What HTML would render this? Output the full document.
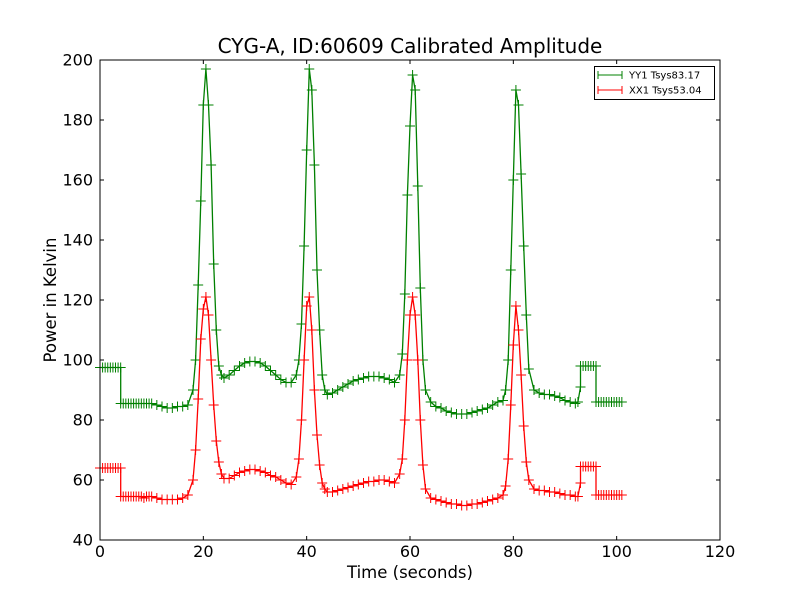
<!DOCTYPE html>
<html><head><meta charset="utf-8"><style>
body{margin:0;background:#fff}
svg{display:block;font-family:"DejaVu Sans","Liberation Sans",sans-serif}
</style></head><body>
<svg id="c" width="800" height="600">
<rect width="800" height="600" fill="#fff"/>
<text x="410" y="53" text-anchor="middle" font-size="20">CYG-A, ID:60609 Calibrated Amplitude</text>
<g id="axes"></g>
<g id="plot"></g>
<rect x="100" y="60" width="620" height="480" fill="none" stroke="#000" stroke-width="1"/>
<text x="410" y="578" text-anchor="middle" font-size="16.5">Time (seconds)</text>
<text transform="translate(56,300) rotate(-90)" text-anchor="middle" font-size="16.5">Power in Kelvin</text>
<g>
<rect x="594.5" y="66.5" width="120" height="33" fill="#fff" stroke="#000"/>
<g><line x1="598" y1="75" x2="622" y2="75" stroke="green"/><line x1="598" y1="71" x2="598" y2="79" stroke="green"/><line x1="622" y1="71" x2="622" y2="79" stroke="green"/><text x="629" y="78.5" font-size="10">YY1 Tsys83.17</text></g>
<g><line x1="598" y1="90" x2="622" y2="90" stroke="red"/><line x1="598" y1="86" x2="598" y2="94" stroke="red"/><line x1="622" y1="86" x2="622" y2="94" stroke="red"/><text x="629" y="93.5" font-size="10">XX1 Tsys53.04</text></g>
</g>
</svg>
<script>
const xTicks=[0,20,40,60,80,100,120];
const yTicks=[40,60,80,100,120,140,160,180,200];
const yyTime=[0,0.5,1,1.5,2,2.5,3,3.5,4,4,4.5,5,5.5,6,6.5,7,7.5,8,8.5,9,9.5,10,11,12,13,14,15,16,17,18,18.5,19,19.5,20,20.5,21,21.5,22,22.5,23,23.5,24,25,26,27,28,29,30,31,32,33,34,35,36,37,38,38.5,39,39.5,40,40.5,41,41.5,42,42.5,43,43.5,44,45,46,47,48,49,50,51,52,53,54,55,56,57,58,58.5,59,59.5,60,60.5,61,61.5,62,62.5,63,64,65,66,67,68,69,70,71,72,73,74,75,76,77,78,78.5,79,79.5,80,80.5,81,81.5,82,82.5,83,84,85,86,87,88,89,90,91,92,92.5,93,93,93.5,94,94.5,95,95.5,96,96,96.5,97,97.5,98,98.5,99,99.5,100,100.5,101];
const yyVals=[97.5,97.5,97.5,97.5,97.5,97.5,97.5,97.5,97.5,85.5,85.5,85.5,85.5,85.5,85.5,85.5,85.5,85.5,85.5,85.5,85.5,85.5,85,84.5,84,84,84.5,84.5,85,90,100,125,153,185,197,185,165,132,110,98,95,94,95,96.5,98,99,99.5,99.5,99,98,96.5,95,93.5,92.5,92.5,95,100,112,138,170,197,190,165,130,110,95,90,88.5,89,90,91,92,93,93.5,94,94.5,94.5,94.5,94,93.5,92.5,95,102,122,155,178,195,190,158,124,100,90,86,84.5,84,83,82.5,82,82,82,82.5,83,83.5,84,85,86,86.5,90,100,130,160,190,185,162,138,115,97,90,89,88.5,88.5,88,87.5,86.5,86,85.5,86,91,98,98,98,98,98,98,98,86,86,86,86,86,86,86,86,86,86,86];
const xxTime=[0,0.5,1,1.5,2,2.5,3,3.5,4,4,4.5,5,5.5,6,6.5,7,7.5,8,8.5,9,9.5,10,11,12,13,14,15,16,17,18,18.5,19,19.5,20,20.5,21,21.5,22,22.5,23,23.5,24,25,26,27,28,29,30,31,32,33,34,35,36,37,38,38.5,39,39.5,40,40.5,41,41.5,42,42.5,43,43.5,44,45,46,47,48,49,50,51,52,53,54,55,56,57,58,58.5,59,59.5,60,60.5,61,61.5,62,62.5,63,64,65,66,67,68,69,70,71,72,73,74,75,76,77,78,78.5,79,79.5,80,80.5,81,81.5,82,82.5,83,84,85,86,87,88,89,90,91,92,92.5,93,93,93.5,94,94.5,95,95.5,96,96,96.5,97,97.5,98,98.5,99,99.5,100,100.5,101];
const xxVals=[64,64,64,64,64,64,64,64,64,54.5,54.5,54.5,54.5,54.5,54.5,54.5,54.5,54.5,54,54.5,54.5,54.5,54,53.5,53.5,53.5,53.5,54,55,60,70,87,107,117,121,115,100,85,73,66,62,60.5,60.5,61.5,62.5,63,63.5,63.5,63,62.5,61.5,61,60,59,58.5,61,67,80,100,118,121,110,90,75,65,59,57,56,56,56.5,57,57.5,58,58.5,59,59.5,59.5,60,60,59.5,59,62,67,80,100,115,121,115,100,80,65,57,54,53.5,53,52.5,52,52,51.5,51.5,52,52,52.5,53,53.5,54,55,58,67,85,105,118,110,95,78,66,60,57,56.5,56.5,56,56,55.5,55,55,54.5,54.5,59,64.5,64.5,64.5,64.5,64.5,64.5,64.5,55,55,55,55,55,55,55,55,55,55,55];
const X=t=>100+t*620/120, Y=v=>540-(v-40)*480/160;
const NS="http://www.w3.org/2000/svg";
const ax=document.getElementById('axes'), pl=document.getElementById('plot');
function mk(tag,attrs,parent){const e=document.createElementNS(NS,tag);for(const k in attrs)e.setAttribute(k,attrs[k]);parent.appendChild(e);return e;}
xTicks.forEach(t=>{
  const x=X(t);
  const g=mk('g',{},ax);
  
  
  mk('line',{x1:x,y1:540,x2:x,y2:536,stroke:'#000'},g);
  mk('line',{x1:x,y1:60,x2:x,y2:64,stroke:'#000'},g);
  const tx=mk('text',{x:x,y:557,'text-anchor':'middle','font-size':16},g);tx.textContent=t;
});
yTicks.forEach(v=>{
  const y=Y(v);
  const g=mk('g',{},ax);
  
  
  mk('line',{x1:100,y1:y,x2:104,y2:y,stroke:'#000'},g);
  mk('line',{x1:720,y1:y,x2:716,y2:y,stroke:'#000'},g);
  const tx=mk('text',{x:93,y:y+5.5,'text-anchor':'end','font-size':16},g);tx.textContent=v;
});
function series(ts,vs,col,name){
  const g=mk('g',{},pl);
  
  
  const pts=ts.map((t,i)=>X(t).toFixed(1)+','+Y(vs[i]).toFixed(1)).join(' ');
  mk('polyline',{points:pts,fill:'none',stroke:col,'stroke-width':1.3},g);
  let d='';
  ts.forEach((t,i)=>{const x=X(t),y=Y(vs[i]);d+=`M${x-5},${y}h10M${x},${y-5}v10`;});
  mk('path',{d:d,stroke:col,'stroke-width':1,fill:'none'},g);
}
series(yyTime,yyVals,'green','series-yy1');
series(xxTime,xxVals,'red','series-xx1');
</script>
</body></html>
